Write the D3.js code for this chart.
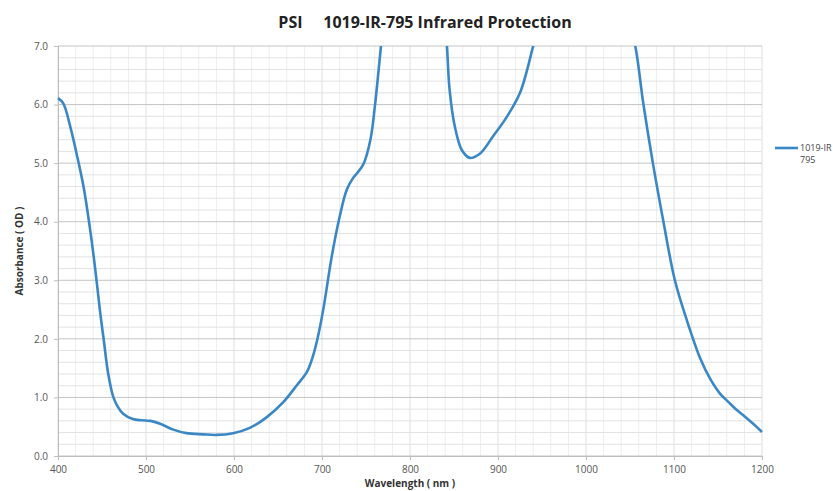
<!DOCTYPE html>
<html>
<head>
<meta charset="utf-8">
<script src="https://cdn.jsdelivr.net/npm/d3@7"></script>
<style>
  body { margin: 0; background: #fff; }
  text { font-family: "Open Sans", "Liberation Sans", sans-serif; }
</style>
</head>
<body>
<div id="main"></div>
<script>
// wavelength (nm) and absorbance (OD); values above 7 get clipped
const wavelengths = [400, 406, 414, 421, 429, 436, 442, 448, 452, 457, 463, 468, 474, 485, 495, 505, 516, 531, 546, 565, 580, 599, 618, 637, 656, 671, 683, 690, 696, 702, 711, 720, 728, 735, 741, 747, 755, 760, 764, 767, 772, 790, 820, 838, 842, 845, 851, 859, 868, 880, 894, 910, 925, 940, 950, 990, 1040, 1056, 1065, 1076, 1088, 1101, 1115, 1130, 1141, 1152, 1162, 1171, 1180, 1190, 1200];
const absorbance = [6.11, 6.02, 5.62, 5.17, 4.60, 3.92, 3.23, 2.44, 1.98, 1.41, 1.0, 0.84, 0.72, 0.63, 0.61, 0.60, 0.55, 0.45, 0.39, 0.37, 0.36, 0.39, 0.48, 0.66, 0.92, 1.2, 1.44, 1.72, 2.08, 2.55, 3.4, 4.08, 4.54, 4.74, 4.85, 4.98, 5.40, 5.96, 6.54, 7.0, 7.9, 9.0, 9.0, 7.8, 7.0, 6.25, 5.62, 5.22, 5.09, 5.17, 5.45, 5.79, 6.2, 7.0, 7.6, 8.8, 8.0, 7.0, 6.03, 5.0, 4.0, 3.0, 2.3, 1.66, 1.32, 1.07, 0.92, 0.79, 0.68, 0.55, 0.41];
const seriesName = ["1019-IR", "795"];
const xTicks = [400, 500, 600, 700, 800, 900, 1000, 1100, 1200];
const yTicks = [0, 1, 2, 3, 4, 5, 6, 7];

const W = 833, H = 491;
const m = { left: 58, right: 71, top: 46, bottom: 35 };

const svg = d3.select("#main").append("svg").attr("width", W).attr("height", H);

const x = d3.scaleLinear().domain([400, 1200]).range([m.left, W - m.right]);
const y = d3.scaleLinear().domain([0, 7]).range([H - m.bottom, m.top]);

// grid
const grid = svg.append("g");
grid.selectAll(".vminor").data(d3.range(400, 1201, 20)).enter().append("line")
  .attr("x1", d => x(d)).attr("x2", d => x(d))
  .attr("y1", y(0)).attr("y2", y(7))
  .style("stroke", d => d % 100 === 0 ? "#dedede" : "#eeeeee").style("stroke-width", 1);
grid.selectAll(".hminor").data(d3.range(0, 7.01, 0.2)).enter().append("line")
  .attr("x1", x(400)).attr("x2", x(1200))
  .attr("y1", d => y(d)).attr("y2", d => y(d))
  .style("stroke", d => Math.abs(d - Math.round(d)) < 0.01 ? "#c4c4c4" : "#e2e2e2").style("stroke-width", 1);

// axes
const xAxis = svg.append("g").attr("transform", `translate(0,${y(0)})`)
  .call(d3.axisBottom(x).tickValues(xTicks).tickFormat(d3.format("d")).tickSize(4).tickPadding(6));
const yAxis = svg.append("g").attr("transform", `translate(${x(400)},0)`)
  .call(d3.axisLeft(y).tickValues(yTicks).tickFormat(d3.format(".1f")).tickSize(4).tickPadding(6));
[xAxis, yAxis].forEach(a => {
  a.select(".domain").style("stroke", "#bdbdbd");
  a.selectAll(".tick line").style("stroke", "#bdbdbd");
  a.selectAll("text").style("font-size", "10px").style("fill", "#555");
});

// curve
svg.append("clipPath").attr("id", "clip").append("rect")
  .attr("x", x(400) - 3).attr("y", y(7)).attr("width", x(1200) - x(400) + 6).attr("height", y(0) - y(7) + 3);

const line = d3.line().x((d, i) => x(wavelengths[i])).y(d => y(d)).curve(d3.curveCatmullRom.alpha(0.5));
svg.append("path").datum(absorbance)
  .attr("clip-path", "url(#clip)")
  .attr("d", line)
  .style("fill", "none").style("stroke", "#3a87c6").style("stroke-width", 2.6);

// title
svg.append("text").attr("x", 425).attr("y", 28).attr("text-anchor", "middle")
  .style("font-size", "16px").style("font-weight", "bold").style("fill", "#222")
  .attr("xml:space", "preserve")
  .text("PSI     1019-IR-795 Infrared Protection");

// axis titles
svg.append("text").attr("x", x(800)).attr("y", 487).attr("text-anchor", "middle")
  .style("font-size", "10px").style("font-weight", "bold").style("fill", "#333")
  .text("Wavelength ( nm )");
svg.append("text").attr("transform", `translate(23,${y(3.5)}) rotate(-90)`).attr("text-anchor", "middle")
  .style("font-size", "10px").style("font-weight", "bold").style("fill", "#333")
  .text("Absorbance ( OD )");

// legend
const lg = svg.append("g").attr("transform", "translate(775,148)");
lg.append("line").attr("x1", 0).attr("x2", 23).attr("y1", 0).attr("y2", 0)
  .style("stroke", "#3a87c6").style("stroke-width", 2.6);
lg.selectAll("text").data(seriesName).enter().append("text")
  .attr("x", 25).attr("y", (d, i) => 3 + i * 12)
  .style("font-size", "9px").style("fill", "#444")
  .text(d => d);
</script>
</body>
</html>
